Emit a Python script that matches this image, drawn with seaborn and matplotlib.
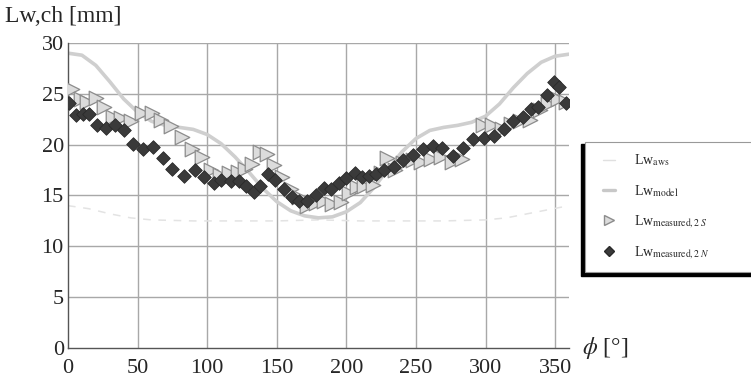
import numpy as np
import seaborn as sns
import matplotlib.pyplot as plt
from matplotlib.patches import Rectangle
from matplotlib.lines import Line2D
from matplotlib.ticker import MultipleLocator

# ------------------------------------------
# data
# ------------------------------------------
phi_model = [0, 10, 20, 30, 40, 50, 60, 70, 80, 90, 100, 110, 120, 130, 140, 150, 160, 170, 180,
             190, 200, 210, 220, 230, 240, 250, 260, 270, 280, 290, 300, 310, 320, 330, 340, 350, 360]
lw_model = [29.0, 28.8, 27.8, 26.2, 24.5, 23.2, 22.3, 21.9, 21.7, 21.5, 21.0, 20.1, 18.8, 17.3, 15.7,
            14.4, 13.5, 13.0, 12.8, 12.9, 13.4, 14.3, 15.8, 17.6, 19.3, 20.6, 21.4, 21.7, 21.9, 22.2,
            22.8, 24.0, 25.6, 27.0, 28.1, 28.7, 28.9]

phi_aws = [0, 15, 30, 45, 60, 90, 120, 150, 180, 210, 240, 270, 300, 315, 330, 345, 360]
lw_aws = [14.0, 13.7, 13.2, 12.8, 12.6, 12.5, 12.5, 12.5, 12.6, 12.5, 12.5, 12.5, 12.6, 12.8, 13.2, 13.6, 14.0]

phi_s = [3, 9, 14, 20, 26, 32, 38, 45, 53, 60, 67, 74, 82, 89, 96, 103, 109, 116, 122, 127, 132,
         138, 143, 148, 154, 160, 166, 172, 178, 184, 190, 196, 202, 208, 213, 219, 225, 229, 235,
         241, 248, 254, 261, 268, 276, 283, 298, 305, 312, 318, 325, 332, 339, 345, 352, 358]
lw_s = [25.5, 24.5, 24.2, 24.6, 23.7, 22.7, 22.6, 22.3, 23.1, 23.1, 22.4, 21.8, 20.8, 19.6, 18.8,
        17.5, 17.0, 17.2, 17.3, 17.6, 18.1, 19.3, 19.1, 18.0, 16.8, 15.6, 14.9, 14.0, 14.3, 14.5,
        14.2, 14.4, 15.2, 15.8, 15.9, 16.0, 17.2, 18.7, 17.5, 18.2, 18.5, 18.3, 18.6, 18.8, 18.3,
        18.6, 21.9, 21.9, 21.5, 22.0, 22.3, 22.4, 23.4, 24.0, 24.5, 24.2]

phi_n = [1, 6, 11, 15, 21, 27, 34, 40, 47, 54, 61, 68, 75, 83, 91, 98, 105, 110, 117, 123, 128,
         134, 138, 144, 149, 155, 161, 166, 172, 178, 184, 189, 195, 200, 206, 211, 216, 221, 227,
         234, 241, 248, 255, 262, 269, 277, 284, 291, 299, 306, 313, 320, 327, 333, 338, 344, 349,
         353, 358]
lw_n = [24.1, 22.9, 23.0, 23.0, 21.9, 21.6, 21.9, 21.4, 20.1, 19.6, 19.8, 18.7, 17.6, 16.9, 17.5,
        16.8, 16.2, 16.5, 16.4, 16.4, 15.9, 15.3, 15.9, 17.1, 16.5, 15.6, 14.9, 14.5, 14.5, 15.0,
        15.7, 15.6, 16.2, 16.7, 17.2, 16.8, 16.9, 17.1, 17.5, 17.8, 18.5, 19.0, 19.6, 19.9, 19.7,
        18.9, 19.7, 20.6, 20.7, 20.9, 21.5, 22.3, 22.7, 23.5, 23.7, 24.9, 26.2, 25.7, 24.1]

# ------------------------------------------
# figure
# ------------------------------------------
sns.set_style("white")
plt.rcParams["font.family"] = ["Liberation Serif", "DejaVu Serif"]
plt.rcParams["mathtext.fontset"] = "stix"

W, H = 751, 380
fig = plt.figure(figsize=(W / 100, H / 100), dpi=100)
ax = fig.add_axes([68 / W, 1 - 348 / H, (569 - 68) / W, (348 - 43) / H])

grid_c = "#a8a8a8"
for gx in range(50, 360, 50):
    ax.axvline(gx, color=grid_c, lw=1.0, zorder=0)
for gy in range(5, 31, 5):
    ax.axhline(gy, color=grid_c, lw=1.0, zorder=0)

sns.lineplot(x=phi_aws, y=lw_aws, ax=ax, color="#e3e3e3", lw=1.1, dashes=False,
             linestyle=(0, (5, 5)), zorder=1)
sns.lineplot(x=phi_model, y=lw_model, ax=ax, color="#cfcfcf", lw=2.6, zorder=2)
sns.scatterplot(x=phi_s, y=lw_s, ax=ax, marker=">", s=110, color="#dcdcdc",
                edgecolor="#8c8c8c", linewidth=0.9, zorder=3)
sns.scatterplot(x=phi_n, y=lw_n, ax=ax, marker="D", s=48, color="#3a3a3a",
                edgecolor="#2a2a2a", linewidth=0.6, zorder=4)

ax.set_xlim(0, 360)
ax.set_ylim(0, 30)
ax.set_xticks(range(0, 360, 50))
ax.set_yticks(range(0, 31, 5))
ax.xaxis.set_minor_locator(MultipleLocator(10))
ax.yaxis.set_minor_locator(MultipleLocator(1))
ax.tick_params(which="both", direction="in", color="#555555", labelsize=16, pad=3)
ax.tick_params(axis="x", which="major", length=6, pad=8)
ax.tick_params(which="minor", length=4, width=0.8)
ax.tick_params(which="major", width=0.9)
for side in ["top", "right"]:
    ax.spines[side].set_visible(False)
for side in ["left", "bottom"]:
    ax.spines[side].set_color("#555555")
    ax.spines[side].set_linewidth(1.0)
ax.set_xlabel("")
ax.set_ylabel("")

fig.text(5 / W, 1 - 16 / H, "Lw,ch [mm]", fontsize=17, ha="left", va="center")
fig.text(582 / W, 1 - 348 / H, r"$\phi$ [°]", fontsize=17, ha="left", va="center")

# legend box with dark shadow at left/bottom
fig.patches.append(Rectangle((581 / W, 1 - 276 / H), 200 / W, (276 - 144) / H,
                             transform=fig.transFigure, color="black", zorder=5))
fig.patches.append(Rectangle((585 / W, 1 - 272 / H), 200 / W, (272 - 142) / H,
                             transform=fig.transFigure, facecolor="white",
                             edgecolor="#999999", lw=0.8, zorder=6))

handles = [
    Line2D([], [], color="#e0e0e0", lw=1.0),
    Line2D([], [], color="#c8c8c8", lw=2.4),
    Line2D([], [], marker=">", ls="none", markersize=6.5, markerfacecolor="#dcdcdc",
           markeredgecolor="#8c8c8c"),
    Line2D([], [], marker="D", ls="none", markersize=5, markerfacecolor="#3a3a3a",
           markeredgecolor="#2a2a2a"),
]
labels = [r"Lw$_{\mathrm{aws}}$", r"Lw$_{\mathrm{model}}$",
          r"Lw$_{\mathrm{measured,2}\ S}$", r"Lw$_{\mathrm{measured,2}\ N}$"]
leg = fig.legend(handles, labels, loc="upper left", bbox_to_anchor=(597 / W, 1 - 147 / H),
                 frameon=False, fontsize=10, handlelength=0.9, handletextpad=1.4,
                 labelspacing=1.05, borderaxespad=0)
leg.set_zorder(7)

fig.savefig("out.png", dpi=100)
